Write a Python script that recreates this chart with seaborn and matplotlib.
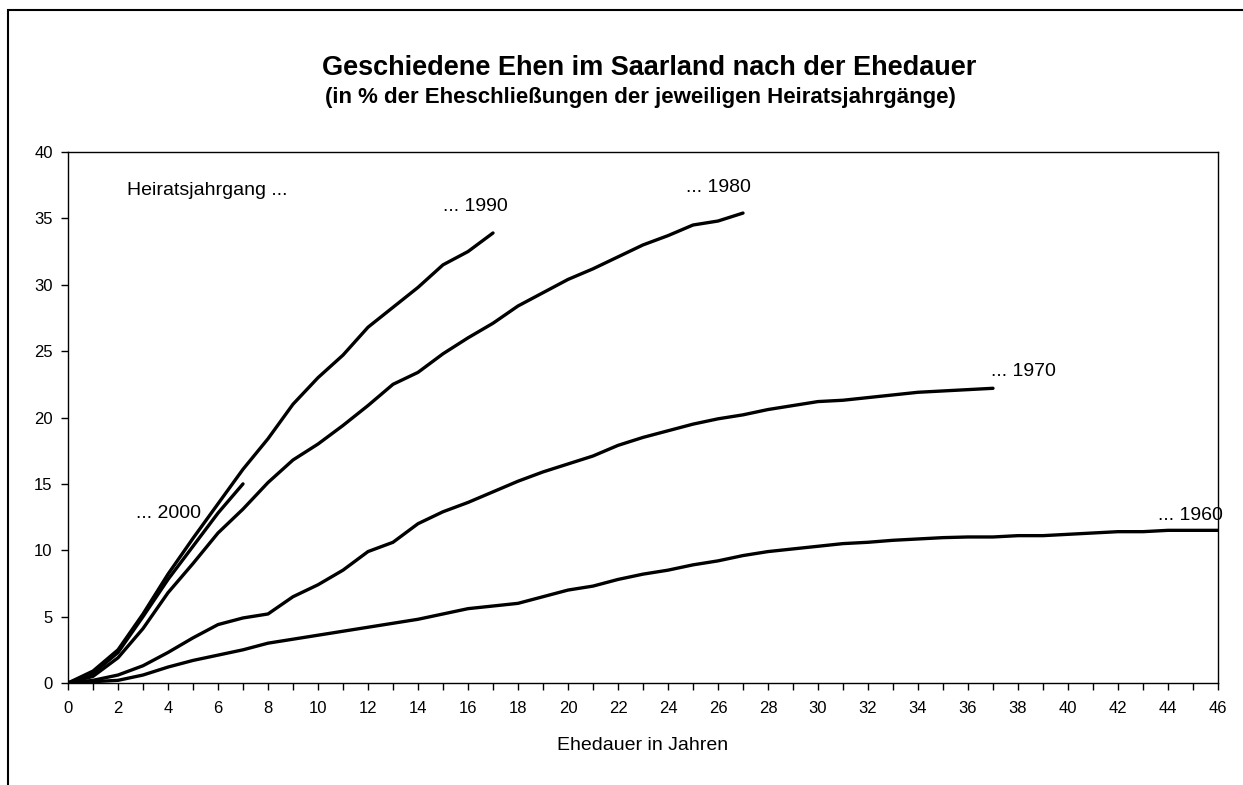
import pandas as pd
import matplotlib.pyplot as plt
import seaborn as sns
from matplotlib.patches import Rectangle

# Stil
sns.set_style("white")
plt.rcParams['font.family'] = ['Liberation Sans', 'DejaVu Sans']
plt.rcParams['text.color'] = 'black'
plt.rcParams['xtick.color'] = 'black'
plt.rcParams['ytick.color'] = 'black'
plt.rcParams['axes.labelcolor'] = 'black'

# Daten: Anteil geschiedener Ehen (%) nach Ehedauer, je Heiratsjahrgang
dauer_1960 = list(range(0, 47))
werte_1960 = [0, 0.1, 0.2, 0.6, 1.2, 1.7, 2.1, 2.5, 3.0, 3.3, 3.6, 3.9, 4.2, 4.5, 4.8, 5.2,
              5.6, 5.8, 6.0, 6.5, 7.0, 7.3, 7.8, 8.2, 8.5, 8.9, 9.2, 9.6, 9.9, 10.1, 10.3,
              10.5, 10.6, 10.75, 10.85, 10.95, 11.0, 11.0, 11.1, 11.1, 11.2, 11.3, 11.4,
              11.4, 11.5, 11.5, 11.5]

dauer_1970 = list(range(0, 38))
werte_1970 = [0, 0.2, 0.6, 1.3, 2.3, 3.4, 4.4, 4.9, 5.2, 6.5, 7.4, 8.5, 9.9, 10.6, 12.0,
              12.9, 13.6, 14.4, 15.2, 15.9, 16.5, 17.1, 17.9, 18.5, 19.0, 19.5, 19.9, 20.2,
              20.6, 20.9, 21.2, 21.3, 21.5, 21.7, 21.9, 22.0, 22.1, 22.2]

dauer_1980 = list(range(0, 28))
werte_1980 = [0, 0.5, 1.9, 4.1, 6.8, 9.0, 11.3, 13.1, 15.1, 16.8, 18.0, 19.4, 20.9, 22.5,
              23.4, 24.8, 26.0, 27.1, 28.4, 29.4, 30.4, 31.2, 32.1, 33.0, 33.7, 34.5, 34.8,
              35.4]

dauer_1990 = list(range(0, 18))
werte_1990 = [0, 0.9, 2.5, 5.2, 8.2, 10.9, 13.5, 16.1, 18.4, 21.0, 23.0, 24.7, 26.8, 28.3,
              29.8, 31.5, 32.5, 33.9]

dauer_2000 = list(range(0, 8))
werte_2000 = [0, 0.7, 2.3, 5.0, 7.8, 10.3, 12.8, 15.0]

jahrgaenge = ['1960', '1970', '1980', '1990', '2000']
beschriftung = {'1960': (44.9, 12.6), '1970': (38.2, 23.5), '1980': (26.0, 37.3),
                '1990': (16.3, 35.9), '2000': (4.0, 12.8)}

# Long-Format fuer seaborn
teile = []
for jg, d, w in zip(jahrgaenge,
                    [dauer_1960, dauer_1970, dauer_1980, dauer_1990, dauer_2000],
                    [werte_1960, werte_1970, werte_1980, werte_1990, werte_2000]):
    teile.append(pd.DataFrame({'Ehedauer': d, 'Anteil': w, 'Jahrgang': jg}))
df = pd.concat(teile, ignore_index=True)

fig = plt.figure(figsize=(12.43, 7.85), dpi=100)
ax = fig.add_axes([68 / 1243, 1 - 683 / 785, 1150 / 1243, 531 / 785])

sns.lineplot(data=df, x='Ehedauer', y='Anteil', hue='Jahrgang',
             palette=['black'] * 5, linewidth=2.4, legend=False, ax=ax)

# Beschriftungen an den Linien
for jg in jahrgaenge:
    bx, by = beschriftung[jg]
    ax.text(bx, by, '... ' + jg, ha='center', va='center', fontsize=14)
ax.text(2.35, 37.1, 'Heiratsjahrgang ...', ha='left', va='center', fontsize=14)

# Achsen
ax.set_xlim(0, 46)
ax.set_ylim(0, 40)
ax.set_xticks(range(0, 47))
ax.set_xticklabels([str(i) if i % 2 == 0 else '' for i in range(0, 47)], fontsize=12)
ax.set_yticks(range(0, 41, 5))
ax.set_yticklabels([str(i) for i in range(0, 41, 5)], fontsize=12)
ax.tick_params(axis='both', direction='out', length=5, width=1, color='black',
               bottom=True, left=True)
ax.tick_params(axis='x', pad=8)
ax.tick_params(axis='y', pad=6)
for s in ax.spines.values():
    s.set_color('black')
    s.set_linewidth(1)
ax.set_xlabel('Ehedauer in Jahren', fontsize=14, labelpad=15)
ax.set_ylabel('')

# Titel
fig.text(649 / 1243, 1 - 68 / 785, 'Geschiedene Ehen im Saarland nach der Ehedauer',
         ha='center', va='center', fontsize=19.5, fontweight='bold')
fig.text(640 / 1243, 1 - 97 / 785, '(in % der Eheschließungen der jeweiligen Heiratsjahrgänge)',
         ha='center', va='center', fontsize=16, fontweight='bold')

# Rahmen um das Diagramm
fig.add_artist(Rectangle((8 / 1243, -0.1), 1.2, 1 - 10 / 785 + 0.1,
                         transform=fig.transFigure, fill=False, edgecolor='black',
                         linewidth=1.5, clip_on=False))

fig.savefig('out.png', dpi=100)
